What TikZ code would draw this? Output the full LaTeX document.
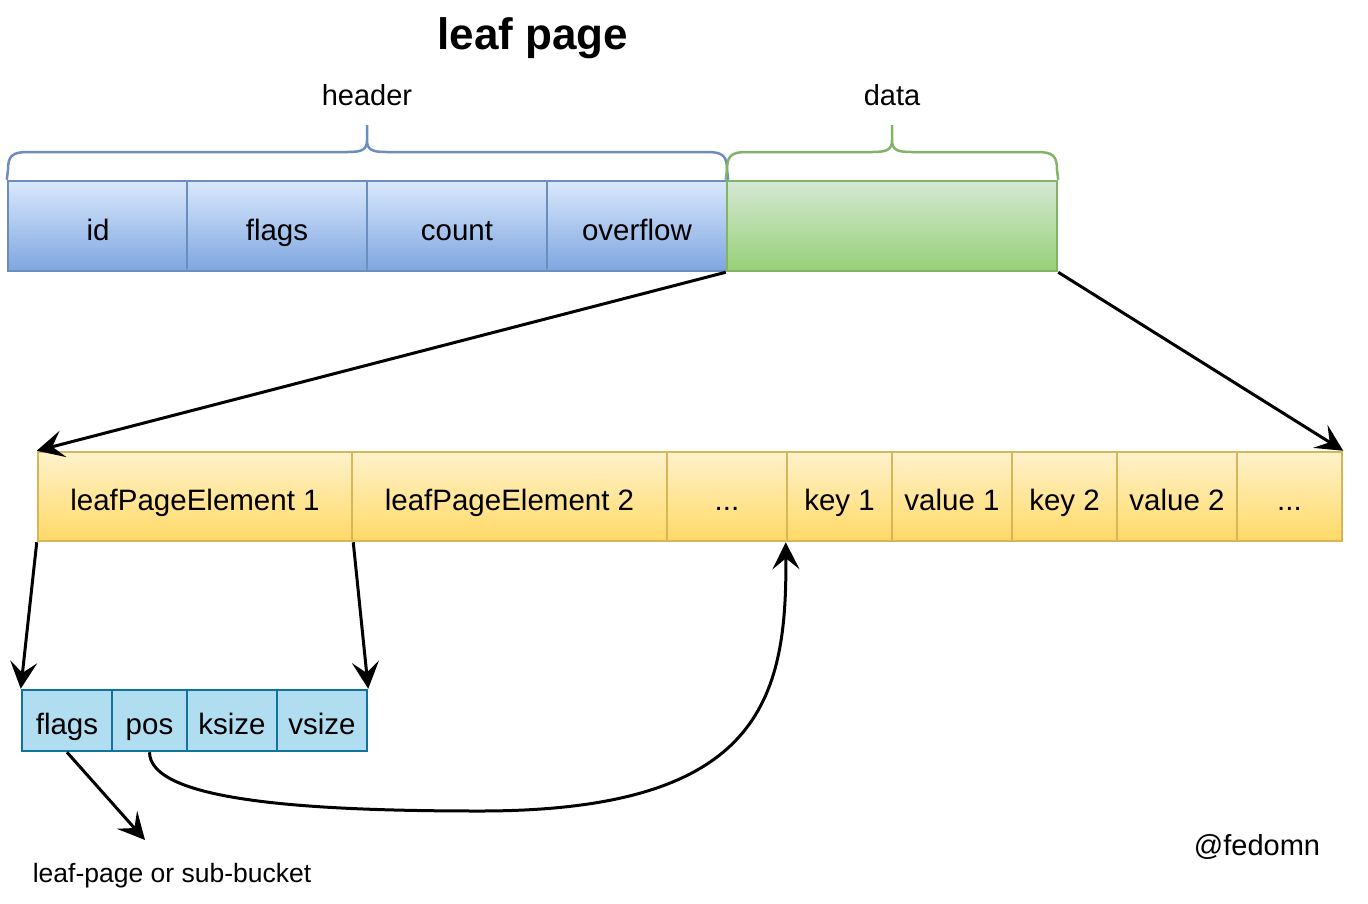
\documentclass[tikz,border=0pt]{standalone}
\usepackage{fontspec}
\setmainfont{Liberation Sans}
\usetikzlibrary{arrows.meta}
\definecolor{hbtop}{HTML}{DAE8FC}
\definecolor{hbbot}{HTML}{7EA6E0}
\definecolor{hbline}{HTML}{6C8EBF}
\definecolor{gtop}{HTML}{D5E8D4}
\definecolor{gbot}{HTML}{97D077}
\definecolor{gline}{HTML}{82B366}
\definecolor{ytop}{HTML}{FFF2CC}
\definecolor{ybot}{HTML}{FFD966}
\definecolor{yline}{HTML}{D6B656}
\definecolor{sfill}{HTML}{B1DDF0}
\definecolor{sline}{HTML}{10739E}
\tikzset{
  cellbase/.style={draw, line width=2.5pt, inner sep=0pt, anchor=center,
    font=\fontsize{29.5}{34}\selectfont, text height=28pt, text depth=0pt},
  hcell/.style={cellbase, draw=hbline, top color=hbtop, bottom color=hbbot,
    minimum width=180pt, minimum height=90pt},
  dcell/.style={cellbase, draw=gline, top color=gtop, bottom color=gbot,
    minimum width=330pt, minimum height=90pt},
  ycell/.style={cellbase, draw=yline, top color=ytop, bottom color=ybot,
    minimum height=89pt},
  scell/.style={cellbase, draw=sline, fill=sfill, minimum height=61pt, text height=27pt},
  arr/.style={line width=3pt, -{Stealth[length=27pt, width=27pt, inset=11pt]}},
  hbrace/.style={line width=2.5pt, draw=hbline},
  gbrace/.style={line width=2.5pt, draw=gline},
  lbl/.style={font=\fontsize{29}{34}\selectfont, anchor=base, inner sep=0pt},
}
\begin{document}
\begin{tikzpicture}[x=1pt, y=-1pt]
\useasboundingbox (0,0) rectangle (1368,903);

% title
\node[font=\fontsize{44}{50}\selectfont\bfseries, anchor=base, inner sep=0pt] (title) at (533,49) {leaf page};

% header cells
\node[hcell] (hid) at (98,226) {id};
\node[hcell] (hflags) at (277,226) {flags};
\node[hcell] (hcount) at (457,226) {count};
\node[hcell] (hover) at (637,226) {overflow};
\node[dcell] (data) at (892,226) {};

% braces
\draw[hbrace] (hid.north west) -- (8,170) .. controls (8,156) and (12,152) .. (28,152)
  -- (347,152) .. controls (362,152) and (367,150) .. (367,140) -- (367,125)
  (367,140) .. controls (367,150) and (372,152) .. (387,152)
  -- (707,152) .. controls (723,152) and (727,156) .. (727,170) -- (hover.north east);
\draw[gbrace] (data.north west) -- (727,170) .. controls (727,156) and (731,152) .. (747,152)
  -- (872,152) .. controls (887,152) and (892,150) .. (892,140) -- (892,125)
  (892,140) .. controls (892,150) and (897,152) .. (912,152)
  -- (1037,152) .. controls (1053,152) and (1057,156) .. (1057,170) -- (data.north east);

\node[lbl] (lheader) at (367,105) {header};
\node[lbl] (ldata) at (892,105) {data};

% yellow row
\node[ycell, minimum width=314pt] (e1) at (195,496.5) {leafPageElement 1};
\node[ycell, minimum width=315pt] (e2) at (509.5,496.5) {leafPageElement 2};
\node[ycell, minimum width=120pt] (dots1) at (727,496.5) {...};
\node[ycell, minimum width=105pt] (k1) at (839.5,496.5) {key 1};
\node[ycell, minimum width=120pt] (v1) at (952,496.5) {value 1};
\node[ycell, minimum width=105pt] (k2) at (1064.5,496.5) {key 2};
\node[ycell, minimum width=120pt] (v2) at (1177,496.5) {value 2};
\node[ycell, minimum width=105pt] (dots2) at (1289.5,496.5) {...};

% small row
\node[scell, minimum width=90pt] (sflags) at (67,720.5) {flags};
\node[scell, minimum width=75pt] (spos) at (149.5,720.5) {pos};
\node[scell, minimum width=90pt] (sksize) at (232,720.5) {ksize};
\node[scell, minimum width=90pt] (svsize) at (322,720.5) {vsize};

% arrows
\draw[arr] (data.south west) -- (e1.north west);
\draw[arr] (data.south east) -- (dots2.north east);
\draw[arr] (e1.south west) -- (sflags.north west);
\draw[arr] (e1.south east) -- (svsize.north east);
\coordinate (fend) at (145,840);
\draw[arr] (sflags.south) -- (fend);
\draw[arr] (spos.south) .. controls (150,800) and (300,811) .. (480,811)
  .. controls (760,811) and (787,700) .. (k1.south west);

\node[font=\fontsize{26.5}{30}\selectfont, anchor=base, inner sep=0pt] (note) at (172,882) {leaf-page or sub-bucket};
\node[font=\fontsize{29}{32}\selectfont, anchor=base, inner sep=0pt] (sig) at (1257,855) {@fedomn};
\end{tikzpicture}
\end{document}
